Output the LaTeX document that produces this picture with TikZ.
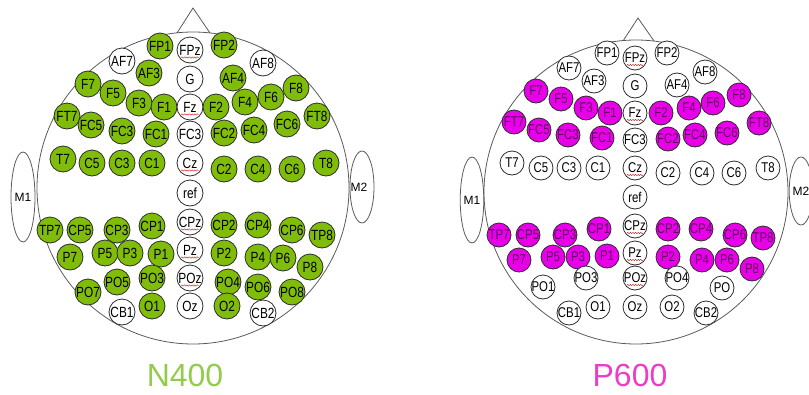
\documentclass[tikz,border=0pt]{standalone}
\usepackage{fontspec}
\setmainfont{Liberation Sans}
\usetikzlibrary{shapes.geometric,decorations.pathmorphing,calc}
\definecolor{elgreen}{RGB}{128,188,10}
\definecolor{elmag}{RGB}{232,0,232}
\definecolor{mgtext}{RGB}{100,0,100}
\definecolor{txtgreen}{RGB}{146,204,76}
\definecolor{txtmag}{RGB}{236,60,200}
\definecolor{headline}{RGB}{90,90,90}
\definecolor{elline}{RGB}{45,45,45}
\newcommand\eltext[1]{\makebox[0pt]{\scalebox{0.95}[1.18]{#1}}}
\begin{document}
\begin{tikzpicture}[x=1pt,y=-1pt,
  head/.style={draw=headline,line width=0.8pt},
  ear/.style={ellipse,draw=headline,line width=0.8pt,inner sep=0pt,font=\fontsize{12}{12}\selectfont},
  el/.style={circle,draw=elline,line width=0.8pt,inner sep=0pt,fill=white,font=\fontsize{12.5}{12.5}\selectfont},
  elL/.style={el,minimum size=26pt},
  elR/.style={el,minimum size=24pt,font=\fontsize{12}{12}\selectfont},
  wh/.style={},
  gr/.style={fill=elgreen},
  mg/.style={fill=elmag,text=mgtext},
  squig/.style={draw=red!80!black,line width=0.35pt,decorate,decoration={snake,amplitude=0.7pt,segment length=2.6pt}},
  title/.style={font=\fontsize{32}{32}\selectfont}
]
\useasboundingbox (0,0) rectangle (809,394);
% ---------------- left head ----------------
\draw[head] (193,188) circle[radius=156];
\draw[head] (177,33) -- (193,8) -- (210,33);
\node[ear,minimum width=24pt,minimum height=90pt] (LM1) at (23,197) {M1};
\node[ear,minimum width=24pt,minimum height=72pt] (LM2) at (362,187) {\makebox[0pt]{\hspace*{-6pt}M2}};
\foreach \n/\t/\x/\y/\s in {
 FP1/FP1/160/46/gr, FPz/FPz/190/50/wh, FP2/FP2/224/45/gr, AF7/AF7/122/61/wh, AF3/AF3/149/73/gr,
 G/G/190/79/wh, AF4/AF4/233/78/gr, AF8/AF8/263/63/wh,
 F7/F7/88/84/gr, F5/F5/113/93/gr, F3/F3/139/103/gr, F1/F1/164/107/gr, Fz/Fz/190/107/wh,
 F2/F2/216/107/gr, F4/F4/245/102/gr, F6/F6/271/97/gr, F8/F8/296/88/gr,
 FT7/FT7/67/116/gr, FC5/FC5/91/125/gr, FC3/FC3/122/131/gr, FC1/FC1/156/134/gr, FCz/FC3/190/134/wh,
 FC2/FC2/224/133/gr, FC4/FC4/254/130/gr, FC6/FC6/287/124/gr, FT8/FT8/317/116/gr,
 T7/T7/63/159/gr, C5/C5/92/163/gr, C3/C3/122/163/gr, C1/C1/152/163/gr, Cz/Cz/190/163/wh,
 C2/C2/224/169/gr, C4/C4/258/169/gr, C6/C6/292/169/gr, T8/T8/326/163/gr,
 ref/ref/190/193/wh,
 TP7/TP7/50/230/gr, CP5/CP5/80/230/gr, CP3/CP3/117/230/gr, CP1/CP1/152/226/gr, CPz/CPz/190/222/wh,
 CP2/CP2/224/225/gr, CP4/CP4/258/225/gr, CP6/CP6/292/230/gr, TP8/TP8/322/235/gr,
 P7/P7/70/257/gr, P5/P5/105/253/gr, P3/P3/130/253/gr, P1/P1/161/254/gr, Pz/Pz/190/250/wh,
 P2/P2/224/253/gr, P4/P4/258/257/gr, P6/P6/283/258/gr, P8/P8/310/267/gr,
 PO7/PO7/88/292/gr, PO5/PO5/117/282/gr, PO3/PO3/152/278/gr, POz/POz/190/278/wh,
 PO4/PO4/228/282/gr, PO6/PO6/258/287/gr, PO8/PO8/292/292/gr,
 CB1/CB1/122/312/wh, O1/O1/152/306/gr, Oz/Oz/190/306/wh, O2/O2/227/306/gr, CB2/CB2/263/313/wh}
 {\node[elL,\s] (L\n) at (\x,\y) {\eltext{\t}};}
\foreach \n in {FPz,Fz,Cz,CPz,Pz,POz}
 {\draw[squig] ($(L\n)+(-9,7.5)$) -- ($(L\n)+(9,7.5)$);}
\node[title,text=txtgreen] (N400) at (185,375) {N400};
% ---------------- right head ----------------
\draw[head] (636,192) circle[radius=152];
\draw[head] (623,41) -- (638,18) -- (654,41);
\node[ear,minimum width=22pt,minimum height=86pt] (RM1) at (472,200) {M1};
\node[ear,minimum width=22pt,minimum height=68pt] (RM2) at (801,191) {M2};
\foreach \n/\t/\x/\y/\s in {
 FP1/FP1/607/53/wh, FPz/FPz/635/58/wh, FP2/FP2/667/53/wh, AF7/AF7/569/68/wh, AF3/AF3/594/81/wh,
 G/G/635/86/wh, AF4/AF4/677/85/wh, AF8/AF8/705/72/wh,
 F7/F7/536/91/mg, F5/F5/561/99/mg, F3/F3/586/108/mg, F1/F1/610/113/mg, Fz/Fz/635/113/wh,
 F2/F2/661/113/mg, F4/F4/689/108/mg, F6/F6/713/103/mg, F8/F8/739/95/mg,
 FT7/FT7/514/122/mg, FC5/FC5/539/130/mg, FC3/FC3/568/135/mg, FC1/FC1/602/138/mg, FCz/FC3/635/140/wh,
 FC2/FC2/668/139/mg, FC4/FC4/695/135/mg, FC6/FC6/727/133/mg, FT8/FT8/759/123/mg,
 T7/T7/512/163/wh, C5/C5/541/168/wh, C3/C3/569/168/wh, C1/C1/598/168/wh, Cz/Cz/635/168/wh,
 C2/C2/668/173/wh, C4/C4/702/173/wh, C6/C6/734/173/wh, T8/T8/768/168/wh,
 ref/ref/635/197/wh,
 TP7/TP7/499/235/mg, CP5/CP5/528/235/mg, CP3/CP3/565/235/mg, CP1/CP1/599/229/mg, CPz/CPz/635/226/wh,
 CP2/CP2/668/229/mg, CP4/CP4/701/229/mg, CP6/CP6/735/235/mg, TP8/TP8/763/238/mg,
 P7/P7/519/260/mg, P5/P5/553/257/mg, P3/P3/578/257/mg, P1/P1/607/256/mg, Pz/Pz/635/253/wh,
 P2/P2/668/257/mg, P4/P4/702/260/mg, P6/P6/727/260/mg, P8/P8/752/269/mg,
 PO1/PO1/543/287/wh, PO3/PO3/586/278/wh, POz/POz/635/278/wh, PO4/PO4/677/278/wh, PO/PO/722/288/wh,
 CB1/CB1/569/313/wh, O1/O1/598/307/wh, Oz/Oz/635/307/wh, O2/O2/672/307/wh, CB2/CB2/706/313/wh}
 {\node[elR,\s] (R\n) at (\x,\y) {\eltext{\t}};}
\foreach \n in {FPz,Fz,Cz,CPz,Pz,POz}
 {\draw[squig] ($(R\n)+(-8,7)$) -- ($(R\n)+(8,7)$);}
\node[title,text=txtmag] (P600) at (630,375) {P600};
\end{tikzpicture}
\end{document}
